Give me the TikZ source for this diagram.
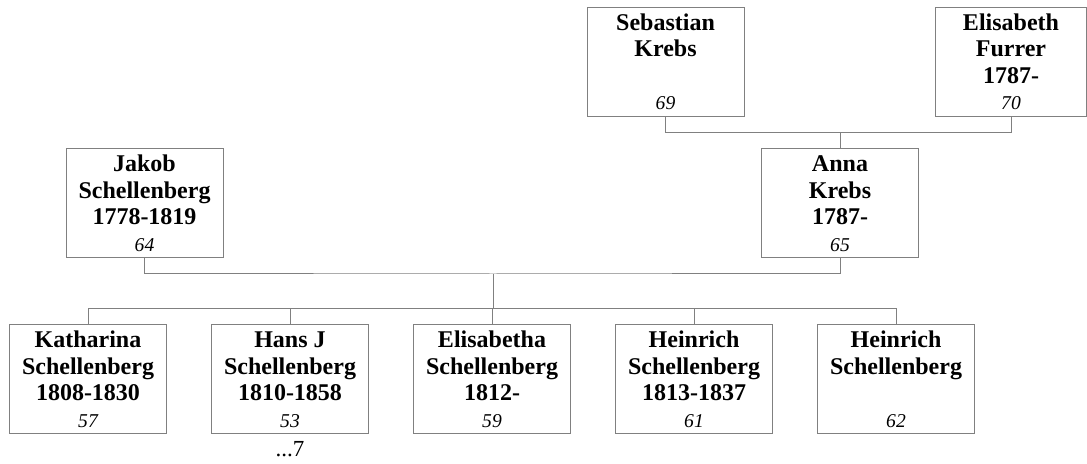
\documentclass[tikz,border=0pt]{standalone}
\usepackage{fontspec}
\setmainfont{Liberation Serif}
\usetikzlibrary{positioning}
\newcommand{\idno}[1]{{\normalfont\itshape\fontsize{9.8}{13.25}\selectfont #1}}
\begin{document}
\begin{tikzpicture}[x=0.5pt,y=-0.5pt]
    \tikzstyle{person}=[draw=gray,line width=0.5pt,minimum width=78.5pt,minimum height=54.5pt,inner sep=1pt,align=center,font=\bfseries\fontsize{12}{13.25}\selectfont]
    \tikzstyle{conn}=[draw=gray,line width=0.5pt]
    \useasboundingbox (0,0) rectangle (1087,464);
    % grandparents
    \node (seb)[person] at (665.5,62) {Sebastian\\Krebs\\~\\\idno{69}};
    \node (eli)[person,minimum width=75.5pt] at (1011,62) {Elisabeth\\Furrer\\1787-\\\idno{70}};
    % parents
    \node (jak)[person] at (144.5,203.5) {Jakob\\Schellenberg\\1778-1819\\\idno{64}};
    \node (anna)[person] at (840,203.5) {Anna\\Krebs\\1787-\\\idno{65}};
    % children
    \node (kat)[person]   at (88,379.5)  {Katharina\\Schellenberg\\1808-1830\\\idno{57}};
    \node (hans)[person]  at (290,379.5) {Hans J\\Schellenberg\\1810-1858\\\idno{53}};
    \node (elis)[person]  at (492,379.5) {Elisabetha\\Schellenberg\\1812-\\\idno{59}};
    \node (hein)[person]  at (694,379.5) {Heinrich\\Schellenberg\\1813-1837\\\idno{61}};
    \node (heinb)[person] at (896,379.5) {Heinrich\\Schellenberg\\~\\\idno{62}};
    \node (more)[below=0pt of hans,font=\fontsize{11.5}{12}\selectfont] {...7};
    \coordinate (pmid) at (493,274);
    \coordinate (cbus) at (493,309);
    \draw [conn] (seb.south) -- ++(0,16) -| (eli.south);
    \draw [conn] (anna.north) -- ++(0,-16);
    \draw [conn] (jak.south) |- (pmid) -| (anna.south);
    \draw [conn] (pmid) -- (cbus);
    \foreach \k in {kat,hans,elis,hein,heinb}
        \draw [conn] (cbus) -| (\k.north);
\end{tikzpicture}
\end{document}
